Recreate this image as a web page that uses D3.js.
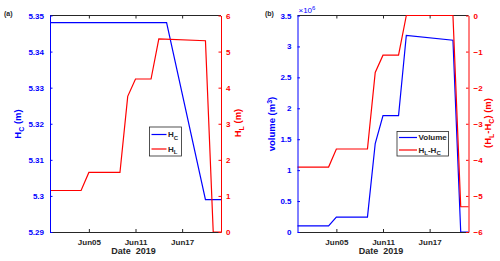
<!DOCTYPE html>
<html>
<head>
<meta charset="utf-8">
<script src="https://cdnjs.cloudflare.com/ajax/libs/d3/7.8.5/d3.min.js"></script>
<style>
  body { margin: 0; background: #fff; }
  text { font-family: "Liberation Sans", Arial, sans-serif; font-weight: bold; }
</style>
</head>
<body>
<div id="chart"></div>
<script>
// dates are days of June 2019 (0 = May 31)
var hcDays = [0, 15, 20, 22];
var hcValues = [5.348, 5.348, 5.299, 5.299];

var hlDays = [0, 4, 5, 9, 10, 11, 13, 14, 20, 21, 22];
var hlValues = [1.15, 1.15, 1.65, 1.65, 3.76, 4.24, 4.24, 5.35, 5.30, 0, 0];

var volDays = [0, 4, 5, 9, 10, 11, 13, 14, 20, 21, 22];
var volValues = [0.10e6, 0.10e6, 0.24e6, 0.24e6, 1.43e6, 1.88e6, 1.88e6, 3.18e6, 3.10e6, 0, 0];

var diffDays = [0, 4, 5, 9, 10, 11, 13, 14, 20, 21, 22];
var diffValues = [-4.2, -4.2, -3.7, -3.7, -1.58, -1.1, -1.1, 0, 0, -5.3, -5.3];

var xTickLabels = ['Jun05', 'Jun11', 'Jun17'];
var xTickDays = [5, 11, 17];

var hcTicks = [5.29, 5.3, 5.31, 5.32, 5.33, 5.34, 5.35];
var hlTicks = [0, 1, 2, 3, 4, 5, 6];
var volTicks = [0, 0.5e6, 1e6, 1.5e6, 2e6, 2.5e6, 3e6, 3.5e6];
var diffTicks = [-6, -5, -4, -3, -2, -1, 0];

var BLUE = '#0000ff', RED = '#ff0000';
var width = 500, height = 261;
var plotTop = 15.5, plotBottom = 232, plotW = 171;

function day(d) { return new Date(2019, 4, 31 + d); }

var svg = d3.select('#chart').append('svg')
  .attr('width', width)
  .attr('height', height);

// append pieces [text, shift] where shift: 0 normal, 1 subscript, -1 superscript
function rich(t, parts, small) {
  var cur = 0;
  parts.forEach(function(p) {
    var target = p[1] * (p[1] > 0 ? 2.5 : 3);
    var ts = t.append('tspan').attr('dy', target - cur).text(p[0]);
    if (p[1] !== 0) ts.style('font-size', small);
    cur = target;
  });
}

function drawPanel(opt) {
  var left = opt.left;
  var x = d3.scaleTime().domain([day(0), day(22)]).range([left, left + plotW]);
  var yL = d3.scaleLinear().domain(opt.leftDomain).range([plotBottom, plotTop]);
  var yR = d3.scaleLinear().domain(opt.rightDomain).range([plotBottom, plotTop]);

  var g = svg.append('g');

  // panel letter
  g.append('text')
    .attr('x', opt.letterX).attr('y', 16)
    .style('font-size', '7px').attr('fill', '#262626')
    .text(opt.letter);

  // box top
  g.append('line').attr('x1', left).attr('x2', left + plotW)
    .attr('y1', plotTop).attr('y2', plotTop).attr('stroke', '#262626');

  var lineL = d3.line().x(function(d) { return x(day(d[0])); }).y(function(d) { return yL(d[1]); });
  var lineR = d3.line().x(function(d) { return x(day(d[0])); }).y(function(d) { return yR(d[1]); });

  g.append('path')
    .datum(d3.zip(opt.leftDays, opt.leftValues))
    .attr('d', lineL).attr('fill', 'none')
    .attr('stroke', BLUE).attr('stroke-width', 1.2);

  g.append('path')
    .datum(d3.zip(opt.rightDays, opt.rightValues))
    .attr('d', lineR).attr('fill', 'none')
    .attr('stroke', RED).attr('stroke-width', 1.2);

  // bottom axis
  var xAxis = d3.axisBottom(x)
    .tickValues(xTickDays.map(day))
    .tickFormat(function(d, i) { return xTickLabels[i]; })
    .tickSizeInner(-3).tickSizeOuter(0).tickPadding(7);
  var gx = g.append('g').attr('transform', 'translate(0,' + plotBottom + ')').call(xAxis);
  gx.selectAll('line, path').attr('stroke', '#262626');
  gx.selectAll('text').style('font-size', '8px').attr('fill', '#262626').attr('font-family', null);

  // top ticks
  var gt = g.append('g').attr('transform', 'translate(0,' + plotTop + ')')
    .call(d3.axisTop(x).tickValues(xTickDays.map(day)).tickFormat('').tickSizeInner(-3).tickSizeOuter(0));
  gt.select('path').remove();
  gt.selectAll('line').attr('stroke', '#262626');

  // left axis
  var gl = g.append('g').attr('transform', 'translate(' + left + ',0)')
    .call(d3.axisLeft(yL).tickValues(opt.leftTicks).tickFormat(opt.leftFormat)
      .tickSizeInner(-2.5).tickSizeOuter(0).tickPadding(6));
  gl.selectAll('line, path').attr('stroke', BLUE);
  gl.selectAll('text').style('font-size', '8px').attr('fill', BLUE).attr('font-family', null);

  // right axis
  var gr = g.append('g').attr('transform', 'translate(' + (left + plotW) + ',0)')
    .call(d3.axisRight(yR).tickValues(opt.rightTicks).tickFormat(d3.format('d'))
      .tickSizeInner(-2.5).tickSizeOuter(0).tickPadding(5));
  gr.selectAll('line, path').attr('stroke', RED);
  gr.selectAll('text').style('font-size', '8px').attr('fill', RED).attr('font-family', null);

  // x label
  g.append('text')
    .attr('x', left + plotW / 2 - 2).attr('y', 254)
    .attr('text-anchor', 'middle')
    .style('font-size', '9px').attr('fill', '#262626')
    .style('white-space', 'pre')
    .text('Date  2019');

  // y labels
  var tl = g.append('text')
    .attr('transform', 'translate(' + opt.leftLabelX + ',124) rotate(-90)')
    .attr('text-anchor', 'middle')
    .style('font-size', '9.5px').attr('fill', BLUE);
  rich(tl, opt.leftLabel, '7px');

  var tr = g.append('text')
    .attr('transform', 'translate(' + opt.rightLabelX + ',123) rotate(-90)')
    .attr('text-anchor', 'middle')
    .style('font-size', '9.5px').attr('fill', RED);
  rich(tr, opt.rightLabel, '7px');

  if (opt.exponent) {
    var ex = g.append('text').attr('x', left + 1).attr('y', 12.5)
      .style('font-size', '8px').style('font-weight', 'normal').attr('fill', BLUE);
    rich(ex, [['\u00d710', 0], ['6', -1]], '6px');
  }

  // legend
  var lg = g.append('g');
  var lb = opt.legend;
  lg.append('rect')
    .attr('x', lb.x).attr('y', lb.y).attr('width', lb.w).attr('height', lb.h)
    .attr('fill', '#fff').attr('stroke', '#262626').attr('stroke-width', 0.8);
  lb.items.forEach(function(it, i) {
    var yy = lb.y + lb.rowY[i];
    lg.append('line')
      .attr('x1', lb.x + 2).attr('x2', lb.x + lb.lineLen)
      .attr('y1', yy).attr('y2', yy)
      .attr('stroke', it.color).attr('stroke-width', 1.2);
    var t = lg.append('text')
      .attr('x', lb.x + lb.lineLen + 1.5).attr('y', yy + 2.5)
      .style('font-size', '8px').attr('fill', '#262626');
    rich(t, it.label, '6px');
  });
}

drawPanel({
  left: 50, letter: '(a)', letterX: 4,
  leftDomain: [5.29, 5.35], rightDomain: [0, 6],
  leftTicks: hcTicks, rightTicks: hlTicks,
  leftFormat: function(d) { return d3.format('.2f')(d).replace(/0$/, ''); },
  leftDays: hcDays, leftValues: hcValues,
  rightDays: hlDays, rightValues: hlValues,
  leftLabelX: 21, rightLabelX: 241,
  leftLabel: [['H', 0], ['C', 1], [' (m)', 0]],
  rightLabel: [['H', 0], ['L', 1], [' (m)', 0]],
  legend: {
    x: 149.5, y: 127, w: 32, h: 29, lineLen: 17, rowY: [7.5, 22],
    items: [
      { color: BLUE, label: [['H', 0], ['C', 1]] },
      { color: RED, label: [['H', 0], ['L', 1]] }
    ]
  }
});

drawPanel({
  left: 297.5, letter: '(b)', letterX: 265, exponent: true,
  leftDomain: [0, 3.5e6], rightDomain: [-6, 0],
  leftTicks: volTicks, rightTicks: diffTicks,
  leftFormat: function(d) { return d3.format('')(d / 1e6); },
  leftDays: volDays, leftValues: volValues,
  rightDays: diffDays, rightValues: diffValues,
  leftLabelX: 275, rightLabelX: 491,
  leftLabel: [['volume (m', 0], ['3', -1], [')', 0]],
  rightLabel: [['(H', 0], ['L', 1], ['-H', 0], ['C', 1], [') (m)', 0]],
  legend: {
    x: 397, y: 131.5, w: 51.5, h: 24.5, lineLen: 20, rowY: [6, 18.5],
    items: [
      { color: BLUE, label: [['Volume', 0]] },
      { color: RED, label: [['H', 0], ['L', 1], ['-H', 0], ['C', 1]] }
    ]
  }
});
</script>
</body>
</html>
